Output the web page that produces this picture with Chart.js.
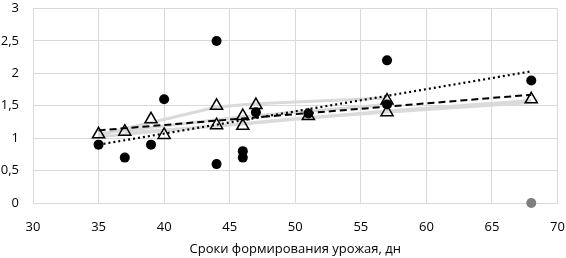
<!DOCTYPE html>
<html>
<head>
<meta charset="utf-8">
<script src="https://cdn.jsdelivr.net/npm/chart.js@4"></script>
<style>
  html, body { margin: 0; padding: 0; background: #fff; }
  #wrap { width: 566px; height: 258px; }
</style>
</head>
<body>
<div id="wrap"><canvas id="chart"></canvas></div>
<script>
// точки (кружки)
const circleX = [35, 37, 39, 40, 44, 44, 46, 46, 47, 51, 57, 57, 68];
const circleY = [0.9, 0.7, 0.9, 1.6, 2.5, 0.6, 0.8, 0.7, 1.4, 1.38, 2.2, 1.52, 1.89];
// треугольники
const triX = [35, 37, 39, 40, 44, 44, 46, 46, 47, 51, 57, 57, 68];
const triY = [1.06, 1.1, 1.29, 1.05, 1.5, 1.2, 1.34, 1.19, 1.51, 1.34, 1.58, 1.4, 1.6];
// серая точка
const greyX = [68];
const greyY = [0];
// линии тренда
const dotX = [35, 68];
const dotY = [0.9, 2.03];
const dashX = [35, 68];
const dashY = [1.12, 1.67];
// серые линии
const g1X = [35, 44, 47, 57];
const g1Y = [1.05, 1.48, 1.53, 1.62];
const g2X = [35, 46, 57];
const g2Y = [1.07, 1.33, 1.52];
const g3X = [37, 46, 57, 68];
const g3Y = [1.08, 1.22, 1.42, 1.58];
const g4X = [35, 51, 68];
const g4Y = [1.02, 1.32, 1.55];

const xTicks = [30, 35, 40, 45, 50, 55, 60, 65, 70];
const yTicks = [0, 0.5, 1, 1.5, 2, 2.5, 3];

function pts(xs, ys) {
  return xs.map((x, i) => ({ x: x, y: ys[i] }));
}

function greyLine(xs, ys) {
  return {
    data: pts(xs, ys),
    showLine: true,
    borderColor: "#dadada",
    borderWidth: 3,
    pointRadius: 0,
    fill: false,
    order: 5
  };
}

const font = { family: "'Open Sans', 'Noto Sans', sans-serif", size: 13 };

new Chart(document.getElementById("chart"), {
  type: "scatter",
  data: {
    datasets: [
      greyLine(g1X, g1Y),
      greyLine(g2X, g2Y),
      greyLine(g3X, g3Y),
      greyLine(g4X, g4Y),
      {
        data: pts(dotX, dotY),
        showLine: true,
        borderColor: "#000",
        borderWidth: 2.2,
        borderDash: [2, 3],
        pointRadius: 0,
        order: 3
      },
      {
        data: pts(dashX, dashY),
        showLine: true,
        borderColor: "#000",
        borderWidth: 2,
        borderDash: [7, 4],
        pointRadius: 0,
        order: 3
      },
      {
        data: pts(triX, triY),
        pointStyle: "triangle",
        pointRadius: 7,
        pointBorderWidth: 1.5,
        pointBorderColor: "#000",
        pointBackgroundColor: "rgba(255,255,255,0)",
        clip: false,
        order: 2
      },
      {
        data: pts(circleX, circleY),
        pointStyle: "circle",
        pointRadius: 5,
        pointBorderWidth: 0,
        pointBackgroundColor: "#000",
        clip: false,
        order: 1
      },
      {
        data: pts(greyX, greyY),
        pointStyle: "circle",
        pointRadius: 5,
        pointBorderWidth: 0,
        pointBackgroundColor: "#7f7f7f",
        clip: false,
        order: 1
      }
    ]
  },
  options: {
    responsive: true,
    maintainAspectRatio: false,
    animation: false,
    layout: { padding: { left: 0, right: 8, top: 1, bottom: 0 } },
    plugins: { legend: { display: false }, tooltip: { enabled: false } },
    scales: {
      x: {
        type: "linear",
        min: 30,
        max: 70,
        afterBuildTicks: s => { s.ticks = xTicks.map(v => ({ value: v })); },
        afterFit: s => { s.height = 55; s.paddingLeft = 0; s.paddingRight = 0; },
        grid: { color: "#d9d9d9", lineWidth: 1, drawTicks: false },
        border: { color: "#d9d9d9" },
        ticks: { color: "#000", font: font, padding: 16 },
        title: {
          display: true,
          text: "Сроки формирования урожая, дн",
          color: "#000",
          font: font,
          padding: { top: 0, bottom: 1 }
        }
      },
      y: {
        type: "linear",
        min: 0,
        max: 3,
        afterBuildTicks: s => { s.ticks = yTicks.map(v => ({ value: v })); },
        afterFit: s => { s.width = 33; s.paddingTop = 0; s.paddingBottom = 0; },
        grid: { color: "#d9d9d9", lineWidth: 1, drawTicks: false },
        border: { color: "#d9d9d9" },
        ticks: {
          color: "#000",
          font: font,
          padding: 14,
          callback: v => String(v).replace(".", ",")
        }
      }
    }
  }
});
</script>
</body>
</html>
